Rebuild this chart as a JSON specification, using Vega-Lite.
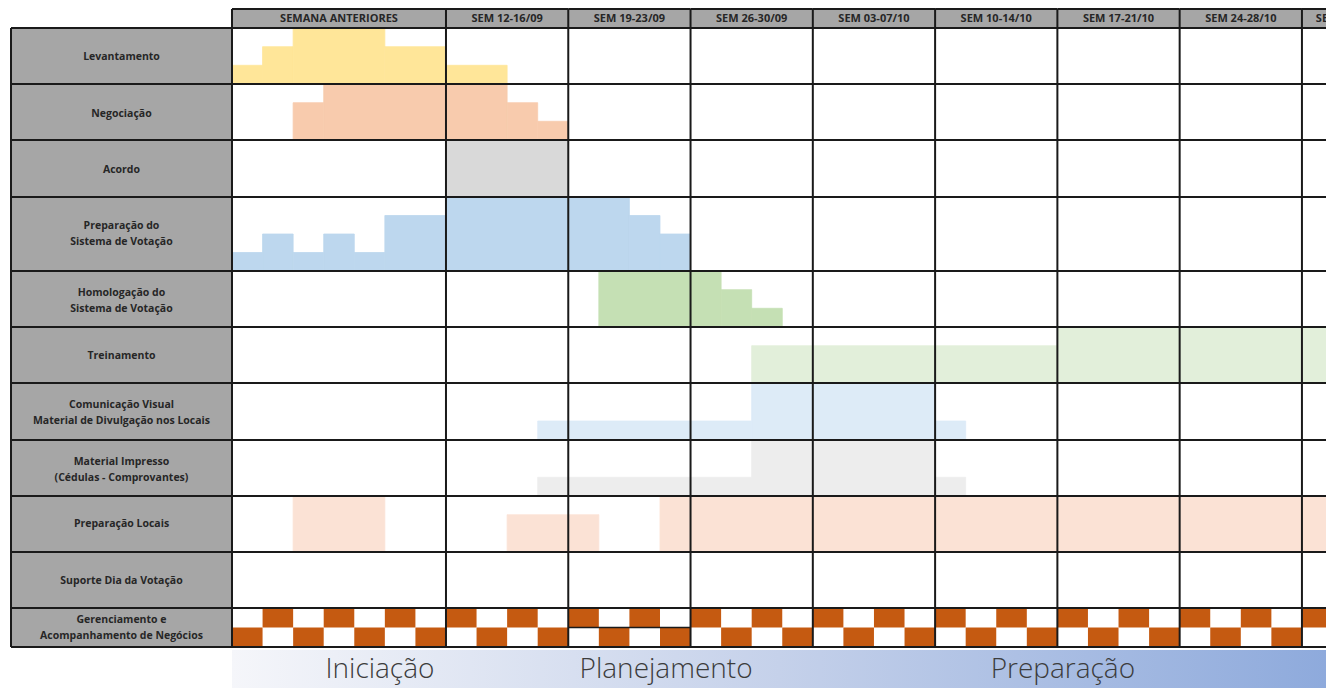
{
  "$schema": "https://vega.github.io/schema/vega-lite/v6.json",
  "width": 1326,
  "height": 688,
  "padding": 0,
  "autosize": {"type": "none"},
  "background": "white",
  "config": {"view": {"stroke": null}},
  "datasets": {
    "semanas": [
      {"semana": "SEMANA ANTERIORES", "inicio": 0, "fim": 7, "centro": 3.5},
      {"semana": "SEM 12-16/09", "inicio": 7, "fim": 11, "centro": 9},
      {"semana": "SEM 19-23/09", "inicio": 11, "fim": 15, "centro": 13},
      {"semana": "SEM 26-30/09", "inicio": 15, "fim": 19, "centro": 17},
      {"semana": "SEM 03-07/10", "inicio": 19, "fim": 23, "centro": 21},
      {"semana": "SEM 10-14/10", "inicio": 23, "fim": 27, "centro": 25},
      {"semana": "SEM 17-21/10", "inicio": 27, "fim": 31, "centro": 29},
      {"semana": "SEM 24-28/10", "inicio": 31, "fim": 35, "centro": 33},
      {"semana": "SEM 31/10-04/11", "inicio": 35, "fim": 39, "centro": 36.9}
    ],
    "atividades": [
      {"rotulo": "Levantamento", "topo": 28, "base": 84, "centro": 57},
      {"rotulo": "Negociação", "topo": 84, "base": 140, "centro": 114},
      {"rotulo": "Acordo", "topo": 140, "base": 197, "centro": 170},
      {"rotulo": "Preparação do\nSistema de Votação", "topo": 197, "base": 271, "centro": 226},
      {"rotulo": "Homologação do\nSistema de Votação", "topo": 271, "base": 327, "centro": 293},
      {"rotulo": "Treinamento", "topo": 327, "base": 383, "centro": 356},
      {"rotulo": "Comunicação Visual\nMaterial de Divulgação nos Locais", "topo": 383, "base": 440, "centro": 405},
      {"rotulo": "Material Impresso\n(Cédulas - Comprovantes)", "topo": 440, "base": 496, "centro": 462},
      {"rotulo": "Preparação Locais", "topo": 496, "base": 552, "centro": 524},
      {"rotulo": "Suporte Dia da Votação", "topo": 552, "base": 608, "centro": 581},
      {"rotulo": "Gerenciamento e\nAcompanhamento de Negócios", "topo": 608, "base": 647, "centro": 620}
    ],
    "barras": [
      {"atividade": "Levantamento", "inicio": 0, "fim": 1, "topo": 65.3, "base": 84},
      {"atividade": "Levantamento", "inicio": 1, "fim": 2, "topo": 46.7, "base": 84},
      {"atividade": "Levantamento", "inicio": 2, "fim": 5, "topo": 28, "base": 84},
      {"atividade": "Levantamento", "inicio": 5, "fim": 7, "topo": 46.7, "base": 84},
      {"atividade": "Levantamento", "inicio": 7, "fim": 9, "topo": 65.3, "base": 84},
      {"atividade": "Negociação", "inicio": 2, "fim": 3, "topo": 102.7, "base": 140},
      {"atividade": "Negociação", "inicio": 3, "fim": 9, "topo": 84, "base": 140},
      {"atividade": "Negociação", "inicio": 9, "fim": 10, "topo": 102.7, "base": 140},
      {"atividade": "Negociação", "inicio": 10, "fim": 11, "topo": 121.3, "base": 140},
      {"atividade": "Acordo", "inicio": 7, "fim": 11, "topo": 140, "base": 197},
      {"atividade": "Preparação do Sistema de Votação", "inicio": 0, "fim": 1, "topo": 252.5, "base": 271},
      {"atividade": "Preparação do Sistema de Votação", "inicio": 1, "fim": 2, "topo": 234, "base": 271},
      {"atividade": "Preparação do Sistema de Votação", "inicio": 2, "fim": 3, "topo": 252.5, "base": 271},
      {"atividade": "Preparação do Sistema de Votação", "inicio": 3, "fim": 4, "topo": 234, "base": 271},
      {"atividade": "Preparação do Sistema de Votação", "inicio": 4, "fim": 5, "topo": 252.5, "base": 271},
      {"atividade": "Preparação do Sistema de Votação", "inicio": 5, "fim": 7, "topo": 215.5, "base": 271},
      {"atividade": "Preparação do Sistema de Votação", "inicio": 7, "fim": 13, "topo": 197, "base": 271},
      {"atividade": "Preparação do Sistema de Votação", "inicio": 13, "fim": 14, "topo": 215.5, "base": 271},
      {"atividade": "Preparação do Sistema de Votação", "inicio": 14, "fim": 15, "topo": 234, "base": 271},
      {"atividade": "Homologação do Sistema de Votação", "inicio": 12, "fim": 16, "topo": 271, "base": 327},
      {"atividade": "Homologação do Sistema de Votação", "inicio": 16, "fim": 17, "topo": 289.7, "base": 327},
      {"atividade": "Homologação do Sistema de Votação", "inicio": 17, "fim": 18, "topo": 308.3, "base": 327},
      {"atividade": "Treinamento", "inicio": 17, "fim": 27, "topo": 345.7, "base": 383},
      {"atividade": "Treinamento", "inicio": 27, "fim": 39, "topo": 327, "base": 383},
      {"atividade": "Comunicação Visual", "inicio": 10, "fim": 17, "topo": 421, "base": 440},
      {"atividade": "Comunicação Visual", "inicio": 17, "fim": 23, "topo": 383, "base": 440},
      {"atividade": "Comunicação Visual", "inicio": 23, "fim": 24, "topo": 421, "base": 440},
      {"atividade": "Material Impresso", "inicio": 10, "fim": 17, "topo": 477.3, "base": 496},
      {"atividade": "Material Impresso", "inicio": 17, "fim": 23, "topo": 440, "base": 496},
      {"atividade": "Material Impresso", "inicio": 23, "fim": 24, "topo": 477.3, "base": 496},
      {"atividade": "Preparação Locais", "inicio": 2, "fim": 5, "topo": 496, "base": 552},
      {"atividade": "Preparação Locais", "inicio": 9, "fim": 12, "topo": 514.7, "base": 552},
      {"atividade": "Preparação Locais", "inicio": 14, "fim": 39, "topo": 496, "base": 552}
    ],
    "gerenciamento": [
      {"inicio": 0, "fim": 1, "topo": 627.5, "base": 647},
      {"inicio": 1, "fim": 2, "topo": 608, "base": 627.5},
      {"inicio": 2, "fim": 3, "topo": 627.5, "base": 647},
      {"inicio": 3, "fim": 4, "topo": 608, "base": 627.5},
      {"inicio": 4, "fim": 5, "topo": 627.5, "base": 647},
      {"inicio": 5, "fim": 6, "topo": 608, "base": 627.5},
      {"inicio": 6, "fim": 7, "topo": 627.5, "base": 647},
      {"inicio": 7, "fim": 8, "topo": 608, "base": 627.5},
      {"inicio": 8, "fim": 9, "topo": 627.5, "base": 647},
      {"inicio": 9, "fim": 10, "topo": 608, "base": 627.5},
      {"inicio": 10, "fim": 11, "topo": 627.5, "base": 647},
      {"inicio": 11, "fim": 12, "topo": 608, "base": 627.5},
      {"inicio": 12, "fim": 13, "topo": 627.5, "base": 647},
      {"inicio": 13, "fim": 14, "topo": 608, "base": 627.5},
      {"inicio": 14, "fim": 15, "topo": 627.5, "base": 647},
      {"inicio": 15, "fim": 16, "topo": 608, "base": 627.5},
      {"inicio": 16, "fim": 17, "topo": 627.5, "base": 647},
      {"inicio": 17, "fim": 18, "topo": 608, "base": 627.5},
      {"inicio": 18, "fim": 19, "topo": 627.5, "base": 647},
      {"inicio": 19, "fim": 20, "topo": 608, "base": 627.5},
      {"inicio": 20, "fim": 21, "topo": 627.5, "base": 647},
      {"inicio": 21, "fim": 22, "topo": 608, "base": 627.5},
      {"inicio": 22, "fim": 23, "topo": 627.5, "base": 647},
      {"inicio": 23, "fim": 24, "topo": 608, "base": 627.5},
      {"inicio": 24, "fim": 25, "topo": 627.5, "base": 647},
      {"inicio": 25, "fim": 26, "topo": 608, "base": 627.5},
      {"inicio": 26, "fim": 27, "topo": 627.5, "base": 647},
      {"inicio": 27, "fim": 28, "topo": 608, "base": 627.5},
      {"inicio": 28, "fim": 29, "topo": 627.5, "base": 647},
      {"inicio": 29, "fim": 30, "topo": 608, "base": 627.5},
      {"inicio": 30, "fim": 31, "topo": 627.5, "base": 647},
      {"inicio": 31, "fim": 32, "topo": 608, "base": 627.5},
      {"inicio": 32, "fim": 33, "topo": 627.5, "base": 647},
      {"inicio": 33, "fim": 34, "topo": 608, "base": 627.5},
      {"inicio": 34, "fim": 35, "topo": 627.5, "base": 647},
      {"inicio": 35, "fim": 36, "topo": 608, "base": 627.5}
    ],
    "fases": [
      {"fase": "Iniciação", "centro": 4.84},
      {"fase": "Planejamento", "centro": 14.2},
      {"fase": "Preparação", "centro": 27.18}
    ]
  },
  "layer": [
    {
      "data": {"name": "semanas"},
      "mark": {"type": "rect", "color": "#a6a6a6", "clip": true},
      "encoding": {
        "x": {"field": "inicio", "type": "quantitative", "scale": {"domain": [-7.589, 35.787], "nice": false, "zero": false}, "axis": null},
        "x2": {"field": "fim"},
        "y": {"datum": 9, "type": "quantitative", "scale": {"domain": [0, 688], "reverse": true, "nice": false, "zero": false}, "axis": null},
        "y2": {"datum": 28}
      }
    },
    {
      "data": {"name": "atividades"},
      "mark": {"type": "rect", "color": "#a6a6a6"},
      "encoding": {
        "x": {"datum": -7.229, "type": "quantitative", "scale": {"domain": [-7.589, 35.787], "nice": false, "zero": false}, "axis": null},
        "x2": {"datum": 0},
        "y": {"field": "topo", "type": "quantitative", "scale": {"domain": [0, 688], "reverse": true, "nice": false, "zero": false}, "axis": null},
        "y2": {"field": "base"}
      }
    },
    {
      "data": {"name": "barras"},
      "mark": {"type": "rect", "clip": true, "strokeWidth": 0.8},
      "encoding": {
        "x": {"field": "inicio", "type": "quantitative", "scale": {"domain": [-7.589, 35.787], "nice": false, "zero": false}, "axis": null},
        "x2": {"field": "fim"},
        "y": {"field": "topo", "type": "quantitative", "scale": {"domain": [0, 688], "reverse": true, "nice": false, "zero": false}, "axis": null},
        "y2": {"field": "base"},
        "fill": {
          "field": "atividade", "type": "nominal", "legend": null,
          "scale": {
            "domain": ["Levantamento", "Negociação", "Acordo", "Preparação do Sistema de Votação", "Homologação do Sistema de Votação", "Treinamento", "Comunicação Visual", "Material Impresso", "Preparação Locais"],
            "range": ["#ffe699", "#f8cbad", "#d9d9d9", "#bdd7ee", "#c5e0b4", "#e2efda", "#ddebf7", "#ededed", "#fbe2d5"]
          }
        },
        "stroke": {
          "field": "atividade", "type": "nominal", "legend": null,
          "scale": {
            "domain": ["Levantamento", "Negociação", "Acordo", "Preparação do Sistema de Votação", "Homologação do Sistema de Votação", "Treinamento", "Comunicação Visual", "Material Impresso", "Preparação Locais"],
            "range": ["#ffe699", "#f8cbad", "#d9d9d9", "#bdd7ee", "#c5e0b4", "#e2efda", "#ddebf7", "#ededed", "#fbe2d5"]
          }
        }
      }
    },
    {
      "data": {"name": "gerenciamento"},
      "mark": {"type": "rect", "color": "#c55a11", "clip": true},
      "encoding": {
        "x": {"field": "inicio", "type": "quantitative", "scale": {"domain": [-7.589, 35.787], "nice": false, "zero": false}, "axis": null},
        "x2": {"field": "fim"},
        "y": {"field": "topo", "type": "quantitative", "scale": {"domain": [0, 688], "reverse": true, "nice": false, "zero": false}, "axis": null},
        "y2": {"field": "base"}
      }
    },
    {
      "data": {"name": "atividades"},
      "mark": {"type": "rule", "color": "#1a1a1a", "strokeWidth": 2, "clip": true},
      "encoding": {
        "x": {"datum": -7.229, "type": "quantitative", "scale": {"domain": [-7.589, 35.787], "nice": false, "zero": false}, "axis": null},
        "x2": {"datum": 39},
        "y": {"field": "base", "type": "quantitative", "scale": {"domain": [0, 688], "reverse": true, "nice": false, "zero": false}, "axis": null}
      }
    },
    {
      "data": {"name": "atividades"},
      "mark": {"type": "rule", "color": "#1a1a1a", "strokeWidth": 2, "clip": true},
      "encoding": {
        "x": {"datum": -7.229, "type": "quantitative", "scale": {"domain": [-7.589, 35.787], "nice": false, "zero": false}, "axis": null},
        "x2": {"datum": 39},
        "y": {"field": "topo", "type": "quantitative", "scale": {"domain": [0, 688], "reverse": true, "nice": false, "zero": false}, "axis": null}
      }
    },
    {
      "data": {"name": "semanas"},
      "mark": {"type": "rule", "color": "#1a1a1a", "strokeWidth": 2, "clip": true},
      "encoding": {
        "x": {"field": "inicio", "type": "quantitative", "scale": {"domain": [-7.589, 35.787], "nice": false, "zero": false}, "axis": null},
        "x2": {"field": "fim"},
        "y": {"datum": 9, "type": "quantitative", "scale": {"domain": [0, 688], "reverse": true, "nice": false, "zero": false}, "axis": null}
      }
    },
    {
      "data": {"name": "semanas"},
      "mark": {"type": "rule", "color": "#1a1a1a", "strokeWidth": 2, "clip": true},
      "encoding": {
        "x": {"field": "inicio", "type": "quantitative", "scale": {"domain": [-7.589, 35.787], "nice": false, "zero": false}, "axis": null},
        "y": {"datum": 9, "type": "quantitative", "scale": {"domain": [0, 688], "reverse": true, "nice": false, "zero": false}, "axis": null},
        "y2": {"datum": 647}
      }
    },
    {
      "data": {"values": [{}]},
      "mark": {"type": "rule", "color": "#1a1a1a", "strokeWidth": 2},
      "encoding": {
        "x": {"datum": -7.229, "type": "quantitative", "scale": {"domain": [-7.589, 35.787], "nice": false, "zero": false}, "axis": null},
        "y": {"datum": 28, "type": "quantitative", "scale": {"domain": [0, 688], "reverse": true, "nice": false, "zero": false}, "axis": null},
        "y2": {"datum": 647}
      }
    },
    {
      "data": {"values": [{}]},
      "mark": {"type": "rule", "color": "#1a1a1a", "strokeWidth": 1.5},
      "encoding": {
        "x": {"datum": 11, "type": "quantitative", "scale": {"domain": [-7.589, 35.787], "nice": false, "zero": false}, "axis": null},
        "x2": {"datum": 15},
        "y": {"datum": 627.5, "type": "quantitative", "scale": {"domain": [0, 688], "reverse": true, "nice": false, "zero": false}, "axis": null}
      }
    },
    {
      "data": {"name": "semanas"},
      "mark": {"type": "text", "font": "Open Sans", "fontWeight": "bold", "fontSize": 11, "color": "#262626", "baseline": "middle", "align": "center", "clip": true},
      "encoding": {
        "x": {"field": "centro", "type": "quantitative", "scale": {"domain": [-7.589, 35.787], "nice": false, "zero": false}, "axis": null},
        "y": {"datum": 18.5, "type": "quantitative", "scale": {"domain": [0, 688], "reverse": true, "nice": false, "zero": false}, "axis": null},
        "text": {"field": "semana"}
      }
    },
    {
      "data": {"name": "atividades"},
      "mark": {"type": "text", "font": "Open Sans", "fontWeight": "bold", "fontSize": 10.5, "color": "#262626", "baseline": "middle", "align": "center", "lineBreak": "\n", "lineHeight": 16},
      "encoding": {
        "x": {"datum": -3.615, "type": "quantitative", "scale": {"domain": [-7.589, 35.787], "nice": false, "zero": false}, "axis": null},
        "y": {"field": "centro", "type": "quantitative", "scale": {"domain": [0, 688], "reverse": true, "nice": false, "zero": false}, "axis": null},
        "text": {"field": "rotulo"}
      }
    },
    {
      "data": {"values": [{}]},
      "mark": {
        "type": "rect", "clip": true,
        "color": {"gradient": "linear", "x1": 0, "x2": 1, "y1": 0, "y2": 0, "stops": [
          {"offset": 0, "color": "#f5f6fa"},
          {"offset": 0.5, "color": "#c5d1ea"},
          {"offset": 1, "color": "#8eaadc"}
        ]}
      },
      "encoding": {
        "x": {"datum": 0, "type": "quantitative", "scale": {"domain": [-7.589, 35.787], "nice": false, "zero": false}, "axis": null},
        "x2": {"datum": 35.787},
        "y": {"datum": 650, "type": "quantitative", "scale": {"domain": [0, 688], "reverse": true, "nice": false, "zero": false}, "axis": null},
        "y2": {"datum": 688}
      }
    },
    {
      "data": {"name": "fases"},
      "mark": {"type": "text", "font": "Open Sans", "fontWeight": 300, "fontSize": 28, "color": "#3c3c3c", "baseline": "alphabetic", "align": "center"},
      "encoding": {
        "x": {"field": "centro", "type": "quantitative", "scale": {"domain": [-7.589, 35.787], "nice": false, "zero": false}, "axis": null},
        "y": {"datum": 678, "type": "quantitative", "scale": {"domain": [0, 688], "reverse": true, "nice": false, "zero": false}, "axis": null},
        "text": {"field": "fase"}
      }
    }
  ]
}
